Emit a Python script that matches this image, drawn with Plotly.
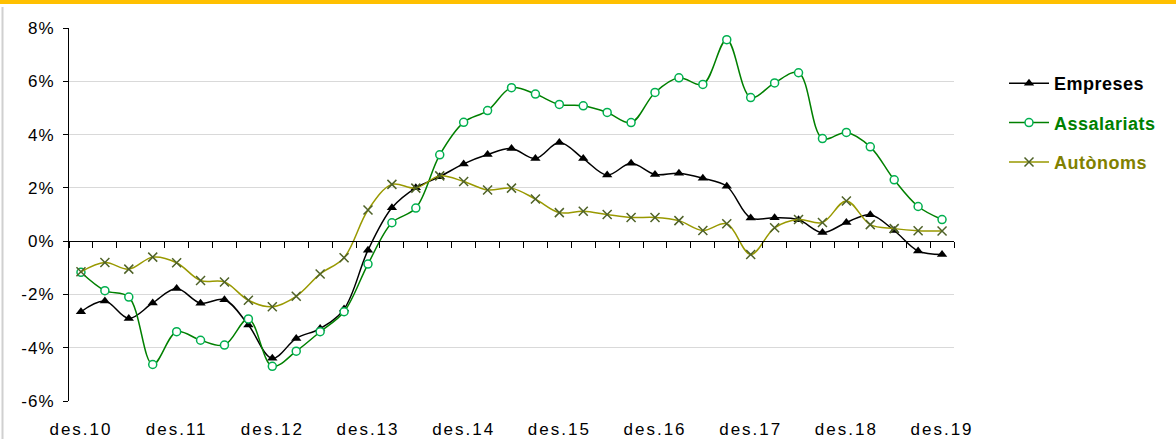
import plotly.graph_objects as go

quarters = list(range(37))
tick_pos = [0, 4, 8, 12, 16, 20, 24, 28, 32, 36]
tick_labels = ["des.10", "des.11", "des.12", "des.13", "des.14",
               "des.15", "des.16", "des.17", "des.18", "des.19"]

empreses = [-2.65, -2.25, -2.90, -2.32, -1.78, -2.33, -2.20, -3.15, -4.40, -3.65,
            -3.28, -2.55, -0.34, 1.25, 2.00, 2.42, 2.90, 3.25, 3.48, 3.10,
            3.70, 3.10, 2.48, 2.92, 2.50, 2.55, 2.36, 2.06, 0.87, 0.88,
            0.80, 0.32, 0.70, 0.99, 0.40, -0.37, -0.50]

assalariats = [-1.17, -1.86, -2.10, -4.63, -3.40, -3.72, -3.90, -2.92, -4.70, -4.13,
               -3.40, -2.65, -0.86, 0.69, 1.24, 3.24, 4.46, 4.90, 5.76, 5.52,
               5.13, 5.08, 4.83, 4.45, 5.58, 6.13, 5.88, 7.56, 5.39, 5.94,
               6.32, 3.85, 4.08, 3.54, 2.30, 1.30, 0.81]

autonoms = [-1.15, -0.80, -1.05, -0.60, -0.81, -1.48, -1.53, -2.22, -2.46, -2.07,
            -1.23, -0.62, 1.17, 2.13, 1.99, 2.45, 2.24, 1.92, 1.99, 1.58,
            1.07, 1.12, 1.00, 0.89, 0.89, 0.77, 0.40, 0.65, -0.50, 0.50,
            0.81, 0.70, 1.51, 0.62, 0.47, 0.39, 0.38]

series_names = ["Empreses", "Assalariats", "Autònoms"]
legend_colors = ["#000000", "#008000", "#808000"]

y_ticks = [-6, -4, -2, 0, 2, 4, 6, 8]
y_labels = [f"{v}%" for v in y_ticks]

FONT = "Arial, Liberation Sans, sans-serif"


def spaced(text, px):
    return f"<span style='letter-spacing:{px}px'>{text}</span>"


def legend_name(name, color):
    return f"<b><span style='color:{color};letter-spacing:0.5px'>{name}</span></b>"


fig = go.Figure()

fig.add_trace(go.Scatter(
    x=quarters, y=empreses, name=legend_name(series_names[0], legend_colors[0]),
    mode="lines+markers",
    line=dict(color="black", width=1.5, shape="spline", smoothing=1),
    marker=dict(symbol="triangle-up", size=9, color="black"),
    legendgroup="a",
))
fig.add_trace(go.Scatter(
    x=quarters, y=assalariats, name=legend_name(series_names[1], legend_colors[1]),
    mode="lines+markers",
    line=dict(color="#008000", width=1.5, shape="spline", smoothing=1),
    marker=dict(symbol="circle", size=8, color="white",
                line=dict(color="#00B050", width=1.5)),
    legendgroup="b",
))
fig.add_trace(go.Scatter(
    x=quarters, y=autonoms, name=legend_name(series_names[2], legend_colors[2]),
    mode="lines+markers",
    line=dict(color="#999900", width=1.5, shape="spline", smoothing=1),
    marker=dict(symbol="x-thin", size=9, color="#4F6228",
                line=dict(color="#4F6228", width=1.5)),
    legendgroup="c",
))
# invisible helper trace so the zero-line tick axis is drawn
fig.add_trace(go.Scatter(
    x=quarters, y=empreses, xaxis="x2", mode="lines", opacity=0,
    showlegend=False, hoverinfo="skip",
))

ymin, ymax = -6, 8
fig.update_layout(
    width=1176, height=439,
    margin=dict(l=69, r=222, t=28, b=38, autoexpand=False),
    paper_bgcolor="white", plot_bgcolor="white",
    font=dict(family=FONT, size=16, color="black"),
    showlegend=True,
    legend=dict(
        x=(1004 - 69) / 885, xanchor="left",
        y=1 - (65 - 28) / 373, yanchor="top",
        font=dict(family=FONT, size=18),
        tracegroupgap=13,
        bgcolor="rgba(0,0,0,0)",
        itemwidth=40,
    ),
    xaxis=dict(
        range=[-0.5, 36.5], tickmode="array",
        tickvals=tick_pos, ticktext=[spaced(t, 2) for t in tick_labels],
        showgrid=False, zeroline=False, showline=False,
        ticks="", tickfont=dict(size=17, family=FONT, color="black"),
        ticklabelstandoff=16, automargin=False,
    ),
    xaxis2=dict(
        overlaying="x", anchor="free",
        position=(0 - ymin) / (ymax - ymin),
        range=[-0.5, 36.5], tickmode="array",
        tickvals=[q + 0.5 for q in quarters] + [-0.5],
        showticklabels=False, showgrid=False, zeroline=False,
        showline=True, linecolor="black", linewidth=1,
        ticks="outside", ticklen=6, tickwidth=1, tickcolor="black",
        automargin=False,
    ),
    yaxis=dict(
        range=[ymin, ymax], tickmode="array",
        tickvals=y_ticks, ticktext=[spaced(t, 1) for t in y_labels],
        showgrid=True, gridcolor="#d9d9d9", gridwidth=1,
        zeroline=False, showline=True, linecolor="black", linewidth=1,
        ticks="outside", ticklen=5, tickcolor="black",
        tickfont=dict(size=17, family=FONT, color="black"),
        ticklabelstandoff=5, automargin=False,
    ),
)

# decorations: top yellow bar and left grey border
fig.add_shape(type="rect", xref="paper", yref="paper",
              x0=-69 / 885, x1=(1176 - 69) / 885,
              y0=1 + 24 / 373, y1=1 + 28 / 373,
              fillcolor="#FFC000", line=dict(width=0), layer="above")
fig.add_shape(type="line", xref="paper", yref="paper",
              x0=-66.5 / 885, x1=-66.5 / 885,
              y0=-38 / 373, y1=1 + 21 / 373,
              line=dict(color="#d0d0d0", width=2))

fig.write_html("out.html",
               config={"displayModeBar": False},
               post_script="document.body.style.margin='0px';"
                           "document.body.style.overflow='hidden';")
